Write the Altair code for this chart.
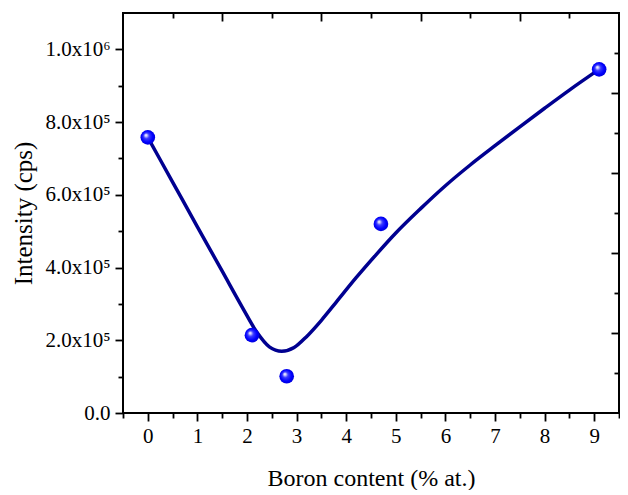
import json
import altair as alt
import pandas as pd

# ---- data ----
curve_x = [0.0, 0.5, 1.0, 1.5, 1.9, 2.2, 2.45, 2.7, 2.95, 3.2, 3.5, 3.8, 4.2, 4.6,
           5.0, 5.5, 6.0, 6.5, 7.0, 7.5, 8.0, 8.5, 9.1]
curve_y = [7.58e5, 6.35e5, 5.12e5, 3.90e5, 2.92e5, 2.22e5, 1.82e5, 1.70e5, 1.80e5,
           2.10e5, 2.55e5, 3.05e5, 3.72e5, 4.35e5, 4.95e5, 5.62e5, 6.25e5, 6.82e5,
           7.35e5, 7.87e5, 8.38e5, 8.88e5, 9.45e5]
pts_x = [0.0, 2.1, 2.8, 4.7, 9.1]
pts_y = [7.58e5, 2.14e5, 1.01e5, 5.20e5, 9.45e5]

x_major = [0, 1, 2, 3, 4, 5, 6, 7, 8, 9]
x_minor = [-0.5, 0.5, 1.5, 2.5, 3.5, 4.5, 5.5, 6.5, 7.5, 8.5, 9.5]
y_major = [0, 2e5, 4e5, 6e5, 8e5, 1e6]
y_minor = [1e5, 3e5, 5e5, 7e5, 9e5]
y_labels = ["0.0", "2.0x10\u2075", "4.0x10\u2075", "6.0x10\u2075", "8.0x10\u2075", "1.0x10\u2076"]
top_major = [1.5, 3.5, 5.5, 7.5]
top_minor = [0.5, 2.5, 4.5, 6.5, 8.5]
right_major = [2.2e5, 4.4e5, 6.6e5, 8.8e5]
right_minor = [1.1e5, 3.3e5, 5.5e5, 7.7e5, 9.9e5]

x_title = "Boron content (% at.)"
y_title = "Intensity (cps)"

curve_df = pd.DataFrame({"x": curve_x, "y": curve_y})
pts_df = pd.DataFrame({"x": pts_x, "y": pts_y})

FONT = "Liberation Serif"
xs = alt.Scale(domain=[-0.5, 9.5], nice=False, zero=False)
ys = alt.Scale(domain=[0, 1.1e6], nice=False, zero=False)

label_expr = json.dumps(y_labels, ensure_ascii=False) + "[round(datum.value/200000)]"

x_axis_main = alt.Axis(orient="bottom", values=x_major, tickSize=8, tickWidth=1.8,
                       tickColor="black", labelFontSize=21, labelFont=FONT,
                       labelColor="black", labelPadding=4, title=x_title,
                       titleFont=FONT, titleFontSize=24, titleFontWeight="normal",
                       titleColor="black", titlePadding=20, domain=False, grid=False,
                       format="d")
y_axis_main = alt.Axis(orient="left", values=y_major, tickSize=8, tickWidth=1.8,
                       tickColor="black", labelFontSize=21, labelFont=FONT,
                       labelColor="black", labelPadding=5, labelExpr=label_expr,
                       title=y_title, titleFont=FONT, titleFontSize=25,
                       titleFontWeight="normal", titleColor="black", titlePadding=8,
                       domain=False, grid=False)

line = alt.Chart(curve_df).mark_line(
    color="#000090", strokeWidth=3.5, interpolate="monotone"
).encode(
    x=alt.X("x:Q", scale=xs, axis=x_axis_main),
    y=alt.Y("y:Q", scale=ys, axis=y_axis_main),
)

grad = {
    "gradient": "radial",
    "x1": 0.36, "y1": 0.34, "r1": 0.0,
    "x2": 0.5, "y2": 0.5, "r2": 0.55,
    "stops": [
        {"offset": 0.0, "color": "#ffffff"},
        {"offset": 0.12, "color": "#d8d8ff"},
        {"offset": 0.35, "color": "#3a3aff"},
        {"offset": 0.7, "color": "#0000ff"},
        {"offset": 1.0, "color": "#0000d0"},
    ],
}
points = alt.Chart(pts_df).mark_circle(size=215, fill=grad, opacity=1).encode(
    x=alt.X("x:Q", scale=xs, axis=x_axis_main),
    y=alt.Y("y:Q", scale=ys, axis=y_axis_main),
)

main = alt.layer(line, points)


def tick_layer(xvals, yvals, xorient, yorient, size, offset):
    return alt.Chart(pts_df).mark_point(opacity=0).encode(
        x=alt.X("x:Q", scale=xs, axis=alt.Axis(
            orient=xorient, values=xvals, labels=False, tickSize=size, tickWidth=1.8,
            tickColor="black", domain=False, grid=False, title=None, offset=offset)),
        y=alt.Y("y:Q", scale=ys, axis=alt.Axis(
            orient=yorient, values=yvals, labels=False, tickSize=size, tickWidth=1.8,
            tickColor="black", domain=False, grid=False, title=None, offset=offset)),
    )


minor_bl = tick_layer(x_minor, y_minor, "bottom", "left", 5, 0)
major_tr = tick_layer(top_major, right_major, "top", "right", 8, -8)
minor_tr = tick_layer(top_minor, right_minor, "top", "right", 5, -5)

chart = alt.layer(main, minor_bl, major_tr, minor_tr).resolve_scale(
    x="independent", y="independent"
).properties(
    width=496, height=400,
    autosize=alt.AutoSizeParams(type="none"),
    padding={"left": 115, "top": 5, "right": 1, "bottom": 77},
    background="white",
).configure_view(stroke="black", strokeWidth=2)

chart.save("out.html", embed_options={"renderer": "svg", "actions": False})
